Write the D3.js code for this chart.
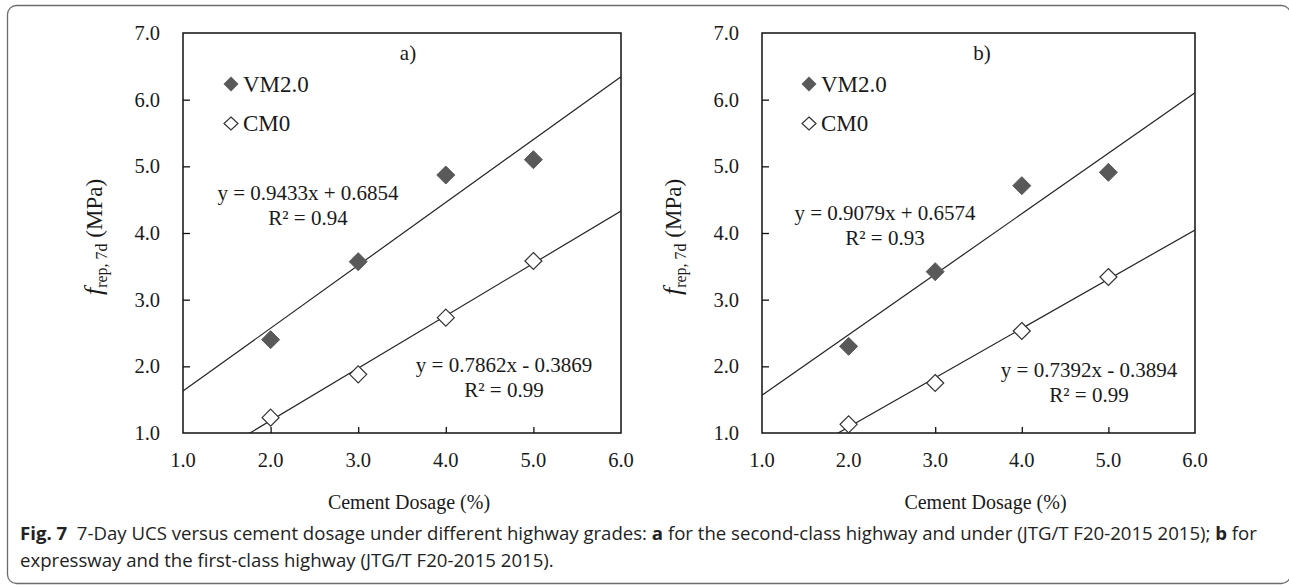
<!DOCTYPE html>
<html>
<head>
<meta charset="utf-8">
<script src="https://cdn.jsdelivr.net/npm/d3@7/dist/d3.min.js"></script>
<style>
  html, body { margin: 0; padding: 0; background: #fff; }
  svg { display: block; }
</style>
</head>
<body>
<svg id="chart" width="1289" height="585"></svg>
<script>
// ---------- data ----------
const xTicks = [1, 2, 3, 4, 5, 6];
const yTicks = [1, 2, 3, 4, 5, 6, 7];
const dosage = [2, 3, 4, 5];
const seriesNames = ["VM2.0", "CM0"];

// panel a
const vmA = [2.40, 3.57, 4.87, 5.10];
const cmA = [1.23, 1.88, 2.73, 3.58];
const slopesA = [0.9433, 0.7862];
const interceptsA = [0.6854, -0.3869];
const eqA = ["y = 0.9433x + 0.6854", "y = 0.7862x - 0.3869"];
const r2A = ["R² = 0.94", "R² = 0.99"];

// panel b
const vmB = [2.30, 3.42, 4.71, 4.91];
const cmB = [1.13, 1.75, 2.53, 3.34];
const slopesB = [0.9079, 0.7392];
const interceptsB = [0.6574, -0.3894];
const eqB = ["y = 0.9079x + 0.6574", "y = 0.7392x - 0.3894"];
const r2B = ["R² = 0.93", "R² = 0.99"];

const panelLabels = ["a)", "b)"];
const xTitle = "Cement Dosage (%)";

// ---------- layout ----------
const svg = d3.select("#chart");
const SERIF = "'Liberation Serif','Times New Roman',serif";

// outer frame
svg.append("rect")
  .attr("x", 7.5).attr("y", 5.5)
  .attr("width", 1283).attr("height", 578)
  .attr("rx", 9).attr("ry", 9)
  .attr("fill", "none").attr("stroke", "#6b6b6b").attr("stroke-width", 1.3);

function stext(g, x, y, txt, size, anchor) {
  return g.append("text")
    .attr("x", x).attr("y", y)
    .attr("text-anchor", anchor || "middle")
    .attr("font-family", SERIF)
    .attr("font-size", size)
    .attr("fill", "#1a1a1a")
    .text(txt);
}

function diamond(w, h) {
  return `M0,${-h}L${w},0L0,${h}L${-w},0Z`;
}

const panels = [
  { left: 183, right: 621, vm: vmA, cm: cmA, slopes: slopesA, ints: interceptsA, eq: eqA, r2: r2A,
    label: panelLabels[0], labelX: 408, legX: 231, eq1: [308, 200], eq2: [504, 372], ytX: 102 },
  { left: 762, right: 1195, vm: vmB, cm: cmB, slopes: slopesB, ints: interceptsB, eq: eqB, r2: r2B,
    label: panelLabels[1], labelX: 982, legX: 809, eq1: [885, 220], eq2: [1089, 377], ytX: 681 }
];
const plotTop = 33, plotBottom = 433;

panels.forEach((p, i) => {
  const g = svg.append("g");
  const x = d3.scaleLinear().domain([1, 6]).range([p.left, p.right]);
  const y = d3.scaleLinear().domain([1, 7]).range([plotBottom, plotTop]);

  const clipId = "clip" + i;
  svg.append("clipPath").attr("id", clipId)
    .append("rect").attr("x", p.left).attr("y", plotTop)
    .attr("width", p.right - p.left).attr("height", plotBottom - plotTop);

  // axes (ticks inside)
  const xAxis = d3.axisBottom(x).tickValues(xTicks.slice(1, -1)).tickSize(-6).tickFormat("");
  const yAxis = d3.axisLeft(y).tickValues(yTicks.slice(1, -1)).tickSize(-7).tickFormat("");
  g.append("g").attr("transform", `translate(0,${plotBottom})`).call(xAxis)
    .call(a => a.select(".domain").remove())
    .selectAll("line").attr("stroke", "#111").attr("stroke-width", 1.3);
  g.append("g").attr("transform", `translate(${p.left},0)`).call(yAxis)
    .call(a => a.select(".domain").remove())
    .selectAll("line").attr("stroke", "#111").attr("stroke-width", 1.3);

  // plot box
  g.append("rect").attr("x", p.left).attr("y", plotTop)
    .attr("width", p.right - p.left).attr("height", plotBottom - plotTop)
    .attr("fill", "none").attr("stroke", "#111").attr("stroke-width", 1.5);

  // tick labels
  xTicks.forEach(t => stext(g, x(t), 467, t.toFixed(1), 20.5, "middle"));
  yTicks.forEach(t => stext(g, p.left - 23, y(t) + 7, t.toFixed(1), 20.5, "end"));

  // axis titles
  stext(g, (p.left + p.right) / 2 + 7, 509, xTitle, 20, "middle");
  const yt = g.append("text")
    .attr("transform", `translate(${p.ytX},${237}) rotate(-90)`)
    .attr("text-anchor", "middle")
    .attr("font-family", SERIF).attr("font-size", 23).attr("fill", "#1a1a1a");
  yt.append("tspan").attr("font-style", "italic").attr("font-size", 26).text("f");
  yt.append("tspan").attr("font-size", 16).attr("dy", 5).text("rep, 7d");
  yt.append("tspan").attr("dy", -5).text(" (MPa)");

  // trend lines
  const lg = g.append("g").attr("clip-path", `url(#${clipId})`);
  p.slopes.forEach((s, k) => {
    const line = d3.line().x(d => x(d)).y(d => y(s * d + p.ints[k]));
    lg.append("path").datum([1, 6]).attr("d", line)
      .attr("fill", "none").attr("stroke", "#222").attr("stroke-width", 1.2);
  });

  // points
  g.selectAll(".vm").data(dosage).enter().append("path")
    .attr("transform", (d, j) => `translate(${x(d)},${y(p.vm[j])})`)
    .attr("d", diamond(9, 9)).attr("fill", "#595959").attr("stroke", "#595959");
  g.selectAll(".cm").data(dosage).enter().append("path")
    .attr("transform", (d, j) => `translate(${x(d)},${y(p.cm[j])})`)
    .attr("d", diamond(8.5, 8.5)).attr("fill", "#fff").attr("stroke", "#333").attr("stroke-width", 1.2);

  // panel label
  stext(g, p.labelX, 60, p.label, 21, "middle");

  // legend
  g.append("path").attr("transform", `translate(${p.legX},84)`)
    .attr("d", diamond(7.5, 7.5)).attr("fill", "#595959");
  stext(g, p.legX + 12, 92, seriesNames[0], 23, "start");
  g.append("path").attr("transform", `translate(${p.legX},123.5)`)
    .attr("d", diamond(7, 6.5)).attr("fill", "#fff").attr("stroke", "#333").attr("stroke-width", 1.2);
  stext(g, p.legX + 12, 131, seriesNames[1], 23, "start");

  // equations
  stext(g, p.eq1[0], p.eq1[1], p.eq[0], 21, "middle");
  stext(g, p.eq1[0], p.eq1[1] + 25, p.r2[0], 21, "middle");
  stext(g, p.eq2[0], p.eq2[1], p.eq[1], 21, "middle");
  stext(g, p.eq2[0], p.eq2[1] + 25, p.r2[1], 21, "middle");
});

// caption
const SANS = "'Open Sans','Noto Sans',sans-serif";
const cap1 = svg.append("text").attr("x", 20).attr("y", 540)
  .attr("font-family", SANS).attr("font-size", 18.6).attr("fill", "#222");
cap1.append("tspan").attr("font-weight", "bold").text("Fig. 7");
cap1.append("tspan").text("\u00a0\u00a07-Day UCS versus cement dosage under different highway grades: ");
cap1.append("tspan").attr("font-weight", "bold").text("a");
cap1.append("tspan").text(" for the second-class highway and under (JTG/T F20-2015 2015); ");
cap1.append("tspan").attr("font-weight", "bold").text("b");
cap1.append("tspan").text(" for");
svg.append("text").attr("x", 20).attr("y", 567)
  .attr("font-family", SANS).attr("font-size", 18.6).attr("fill", "#222")
  .text("expressway and the first-class highway (JTG/T F20-2015 2015).");
</script>
</body>
</html>
